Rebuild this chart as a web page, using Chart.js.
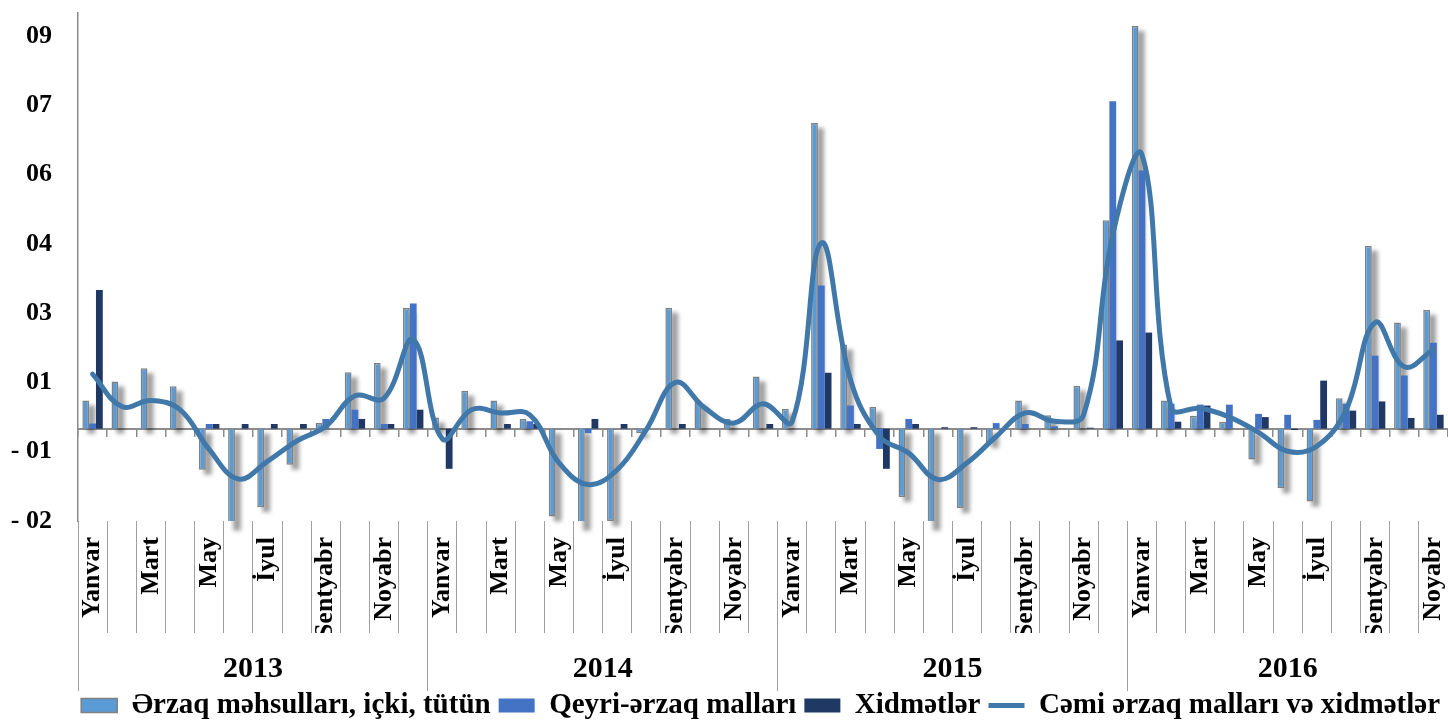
<!DOCTYPE html>
<html>
<head>
<meta charset="utf-8">
<script src="https://cdn.jsdelivr.net/npm/chart.js@4.4.3/dist/chart.umd.min.js"></script>
<style>
  html, body { margin: 0; padding: 0; background: #fff; }
  #wrap { width: 1448px; height: 722px; }
</style>
</head>
<body>
<div id="wrap"><canvas id="cpi" width="1448" height="722"></canvas></div>
<script>
const MONTHS = ['Yanvar', 'Fevral', 'Mart', 'Aprel', 'May', 'İyun', 'İyul', 'Avqust', 'Sentyabr', 'Oktyabr', 'Noyabr', 'Dekabr'];
const YEARS = ['2013', '2014', '2015', '2016'];
const MONTHS_IN_YEAR = [12, 12, 12, 11];

const SERIES_NAMES = [
  'Ərzaq məhsulları, içki, tütün',
  'Qeyri-ərzaq malları',
  'Xidmətlər',
  'Cəmi ərzaq malları və xidmətlər'
];

// monthly change
const FOOD = [
  0.061, 0.102, 0.131, 0.092, -0.089, -0.21, -0.17, -0.078, 0.012, 0.122, 0.142, 0.261,
  0.024, 0.082, 0.061, 0.021, -0.19, -0.21, -0.2, -0.01, 0.262, 0.061, 0.021, 0.113,
  0.043, 0.662, 0.182, 0.047, -0.148, -0.21, -0.172, -0.031, 0.061, 0.029, 0.093, 0.451,
  0.872, 0.061, 0.028, 0.015, -0.067, -0.129, -0.158, 0.066, 0.396, 0.23, 0.257
];
const NONFOOD = [
  0.011, 0, 0, 0, 0.01, 0, 0, 0, 0.021, 0.041, 0.01, 0.271,
  0, 0, 0, 0.016, 0, -0.01, 0, 0, 0, 0, 0, 0,
  0, 0.31, 0.05, -0.044, 0.021, 0, 0, 0.012, 0.01, 0.005, 0, 0.709,
  0.559, 0.054, 0.052, 0.052, 0.032, 0.03, 0.019, 0.054, 0.158, 0.115, 0.186
];
const SERVICES = [
  0.30, 0, 0, 0, 0.01, 0.01, 0.01, 0.01, 0, 0.021, 0.01, 0.041,
  -0.087, 0, 0.01, 0.01, 0, 0.021, 0.01, 0, 0.01, 0, 0, 0.01,
  0, 0.121, 0.01, -0.087, 0.01, 0.003, 0.003, 0, 0, 0, 0.002, 0.191,
  0.208, 0.015, 0.05, 0, 0.025, -0.003, 0.104, 0.039, 0.059, 0.023, 0.03
];
const TOTAL = [
  0.118, 0.048, 0.061, 0.041, -0.045, -0.109, -0.071, -0.027, 0.005, 0.071, 0.066, 0.193,
  -0.022, 0.041, 0.034, 0.03, -0.074, -0.121, -0.089, -0.002, 0.1, 0.045, 0.012, 0.054,
  0.015, 0.402, 0.106, -0.017, -0.053, -0.11, -0.074, -0.017, 0.034, 0.016, 0.03, 0.42,
  0.593, 0.045, 0.044, 0.025, -0.008, -0.049, -0.038, 0.04, 0.23, 0.134, 0.171
];

// y axis ticks and the (odd) labels the original axis shows
const Y_TICKS = [-0.2, -0.05, 0.1, 0.25, 0.4, 0.55, 0.7, 0.85];
const Y_LABELS = ['- 02', '- 01', '01', '03', '04', '06', '07', '09'];

const SERIF = "'Liberation Serif', 'DejaVu Serif', 'Times New Roman', serif";
const GRAY = '#8C8C8C';
const SEP = '#A0A0A0';

// category labels and year block edges / middles on the index scale
const categories = YEARS.flatMap((y, i) => MONTHS.slice(0, MONTHS_IN_YEAR[i]));
const yearEdges = [];
const yearMids = [];
let start = 0;
MONTHS_IN_YEAR.forEach(n => {
  yearEdges.push(start - 0.5);
  yearMids.push(start + (n - 1) / 2);
  start += n;
});
const lastIndex = categories.length - 0.5;

// grey drop shadow behind the food bars, drawn before any bars
const foodShadow = {
  id: 'foodShadow',
  beforeDatasetsDraw(chart) {
    const c = chart.ctx, a = chart.chartArea;
    const meta = chart.getDatasetMeta(0);
    c.save();
    c.beginPath();
    c.rect(a.left, a.top, a.right - a.left, a.bottom - a.top + 20);
    c.clip();
    c.filter = 'blur(2px)';
    c.fillStyle = 'rgba(0,0,0,0.38)';
    meta.data.forEach(bar => {
      const top = Math.min(bar.y, bar.base);
      const h = Math.abs(bar.base - bar.y);
      c.fillRect(bar.x - bar.width / 2 + 5, top + 5, bar.width + 1, h);
    });
    c.restore();
  }
};

const barCommon = { categoryPercentage: 0.7, barPercentage: 1, order: 1, xAxisID: 'x', yAxisID: 'y' };

new Chart(document.getElementById('cpi'), {
  type: 'bar',
  data: {
    labels: categories,
    datasets: [
      { ...barCommon, label: SERIES_NAMES[0], data: FOOD, backgroundColor: '#5B9BD5', borderColor: '#808080', borderWidth: 1.5 },
      { ...barCommon, label: SERIES_NAMES[1], data: NONFOOD, backgroundColor: '#4472C4', borderWidth: 0 },
      { ...barCommon, label: SERIES_NAMES[2], data: SERVICES, backgroundColor: '#203864', borderWidth: 0 },
      {
        type: 'line', label: SERIES_NAMES[3], data: TOTAL, order: 0, xAxisID: 'x', yAxisID: 'y',
        borderColor: '#4178AA', backgroundColor: '#4178AA', borderWidth: 5,
        pointRadius: 0, tension: 0.4, fill: false, borderCapStyle: 'round'
      }
    ]
  },
  options: {
    responsive: false,
    devicePixelRatio: 1,
    animation: false,
    events: [],
    layout: { padding: { top: 13, left: 0, right: 0, bottom: -8 } },
    plugins: {
      tooltip: { enabled: false },
      legend: {
        position: 'bottom',
        align: 'end',
        labels: {
          usePointStyle: true,
          pointStyleWidth: 36,
          boxHeight: 14,
          padding: 8,
          color: '#000',
          font: { family: SERIF, size: 29, weight: 'bold' },
          sort: (a, b) => a.datasetIndex - b.datasetIndex,
          generateLabels: chart => chart.data.datasets.map((ds, i) => {
            const isLine = ds.type === 'line';
            return {
              text: ds.label,
              fillStyle: ds.backgroundColor,
              strokeStyle: isLine ? ds.borderColor : (ds.borderWidth ? ds.borderColor : ds.backgroundColor),
              lineWidth: isLine ? 5 : ds.borderWidth,
              pointStyle: isLine ? 'line' : 'rect',
              hidden: false,
              datasetIndex: i,
              fontColor: '#000'
            };
          })
        }
      }
    },
    scales: {
      x: {
        type: 'category',
        position: 'bottom',
        weight: 0,
        offset: true,
        grid: { offset: true, drawOnChartArea: false, drawTicks: true, tickLength: 112, color: SEP, lineWidth: 1 },
        border: { display: false },
        ticks: {
          autoSkip: false,
          minRotation: 90,
          maxRotation: 90,
          padding: -96,
          color: '#000',
          font: { family: SERIF, size: 26, weight: 'bold' },
          callback: (v, i) => (i % 2 === 0 ? categories[i] : '')
        },
        afterFit: s => { s.height = 112; }
      },
      years: {
        type: 'linear',
        axis: 'x',
        position: 'bottom',
        weight: 1,
        min: -0.5,
        max: lastIndex,
        offset: false,
        grid: {
          offset: false, drawOnChartArea: false, drawTicks: true, tickLength: 58, lineWidth: 1,
          color: c => (c.tick && yearEdges.includes(c.tick.value) ? SEP : 'rgba(0,0,0,0)')
        },
        border: { display: false },
        afterBuildTicks: s => {
          s.ticks = [...yearEdges, ...yearMids].sort((a, b) => a - b).map(v => ({ value: v }));
        },
        ticks: {
          autoSkip: false,
          maxRotation: 0,
          minRotation: 0,
          padding: -40,
          color: '#000',
          font: { family: SERIF, size: 30, weight: 'bold' },
          callback: v => {
            const k = yearMids.indexOf(v);
            return k >= 0 ? YEARS[k] : '';
          }
        },
        afterFit: s => { s.height = 50; }
      },
      zero: {
        type: 'category',
        axis: 'x',
        position: { y: 0 },
        offset: true,
        grid: { offset: true, drawOnChartArea: false, drawTicks: true, tickLength: 7, color: GRAY, lineWidth: 1.5 },
        border: { display: true, color: GRAY, width: 2 },
        ticks: { display: false }
      },
      y: {
        type: 'linear',
        position: 'left',
        min: -0.2,
        max: 0.9,
        afterBuildTicks: s => { s.ticks = Y_TICKS.map(v => ({ value: v })); },
        grid: { drawOnChartArea: false, drawTicks: true, tickLength: 26, tickColor: 'rgba(0,0,0,0)' },
        border: { display: true, color: GRAY, width: 1.5 },
        ticks: {
          padding: 0,
          color: '#000',
          font: { family: SERIF, size: 26, weight: 'bold', lineHeight: 1 },
          callback: v => Y_LABELS[Y_TICKS.indexOf(v)]
        },
        afterFit: s => { s.width = 78; }
      }
    }
  },
  plugins: [foodShadow]
});
</script>
</body>
</html>
